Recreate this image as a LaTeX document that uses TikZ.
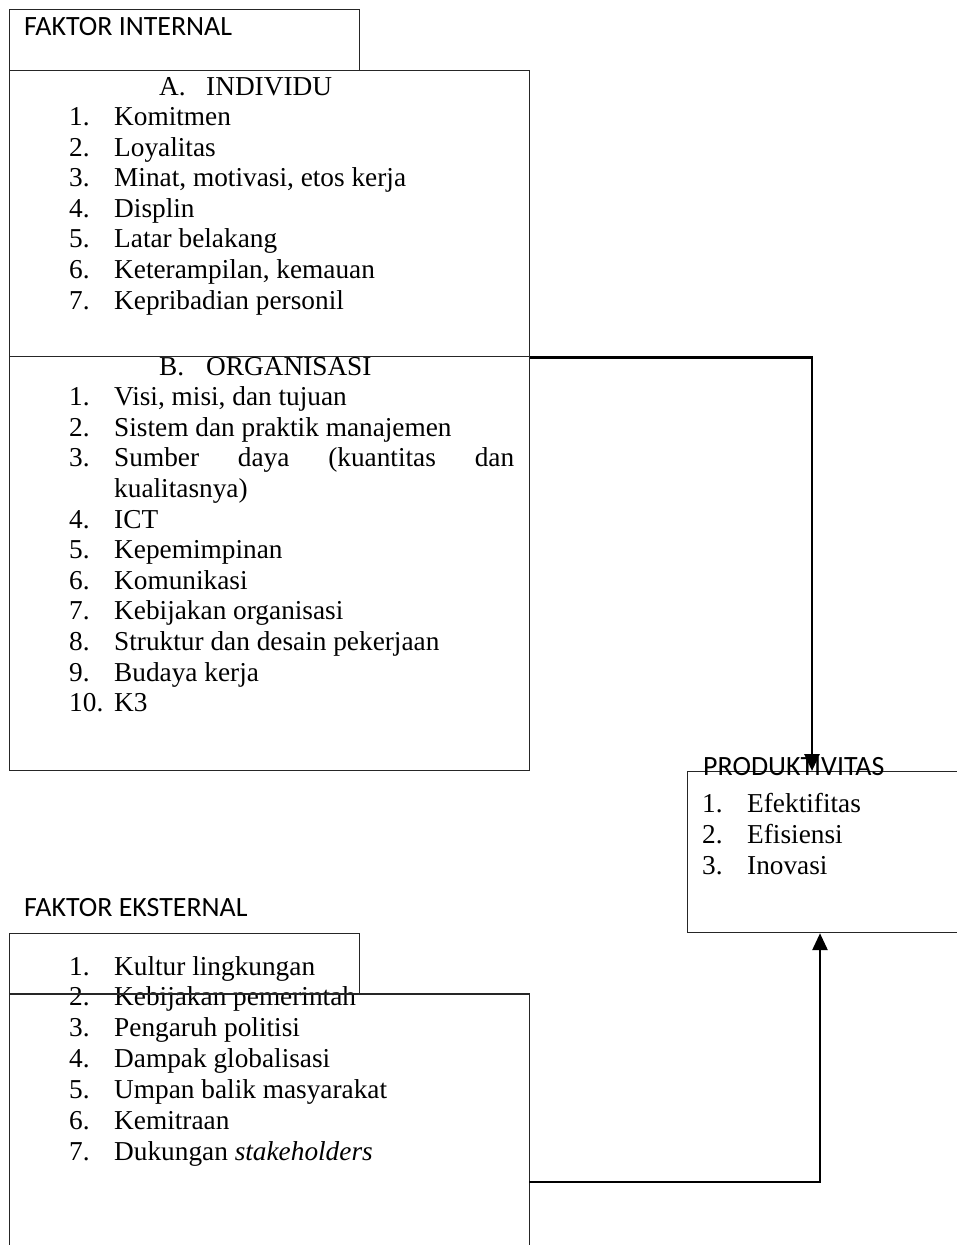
\documentclass[tikz,border=0pt]{standalone}
\usepackage{fontspec}
\setmainfont{Liberation Serif}
\newfontfamily\calib{Carlito}
\usetikzlibrary{arrows.meta}
\begin{document}
\begin{tikzpicture}[x=1pt,y=-1pt,
  boxnode/.style={draw=black!85, line width=1.2pt, inner sep=0pt, anchor=north west, rectangle, fill=white},
  lbl/.style={inner sep=0pt, anchor=base west, font=\calib\fontsize{27.9}{30}\selectfont},
  itm/.style={inner sep=0pt, anchor=base west, font=\fontsize{27.3}{30.6}\selectfont},
  conn/.style={draw=black, line width=2.8pt, -{Triangle[width=15pt,length=17pt]}}]
\useasboundingbox (0,0) rectangle (957,1245);
\clip (0,0) rectangle (957,1245);
\fill[white] (0,0) rectangle (957,1245);

% ---------- FAKTOR INTERNAL ----------
\node[boxnode, minimum width=350pt, minimum height=61pt] (fi) at (9,9) {};
\node[lbl] (fitxt) at (24,35) {FAKTOR INTERNAL};

% organisasi box and text (drawn first)
\node[boxnode, minimum width=520pt, minimum height=414pt] (org) at (9,356) {};
\node[itm] (orgA) at (159,375) {B.};
\node[itm] (orgH) at (206,375) {ORGANISASI};
\node[itm] (o1n) at (69,405.6) {1.};
\node[itm] (o1) at (114,405.6) {Visi, misi, dan tujuan};
\node[itm] (o2n) at (69,436.2) {2.};
\node[itm] (o2) at (114,436.2) {Sistem dan praktik manajemen};
\node[itm] (o3n) at (69,466.8) {3.};
\node[itm] (o3) at (114,466.8) {\hbox to 400pt{Sumber\hfill daya\hfill (kuantitas\hfill dan}};
\node[itm] (o3b) at (114,497.4) {kualitasnya)};
\foreach \t [count=\k] in {ICT, Kepemimpinan, Komunikasi, Kebijakan organisasi, Struktur dan desain pekerjaan, Budaya kerja, K3} {
  \pgfmathtruncatemacro{\num}{\k+3}
  \node[itm] (o\num n) at (69,{528+(\k-1)*30.6}) {\num.};
  \node[itm] (o\num) at (114,{528+(\k-1)*30.6}) {\t};
}

% individu box and text
\node[boxnode, minimum width=520pt, minimum height=286pt] (ind) at (9,70) {};
\node[itm] (indA) at (159,95) {A.};
\node[itm] (indH) at (206,95) {INDIVIDU};
\foreach \t [count=\k] in {Komitmen, Loyalitas, {Minat, motivasi, etos kerja}, Displin, Latar belakang, {Keterampilan, kemauan}, Kepribadian personil} {
  \node[itm] (i\k n) at (69,{125.5+(\k-1)*30.6}) {\k.};
  \node[itm] (i\k) at (114,{125.5+(\k-1)*30.6}) {\t};
}

% ---------- PRODUKTIVITAS ----------
\node[boxnode, minimum width=300pt, minimum height=161pt] (prod) at (687,771) {};
\node[lbl] (prodtxt) at (703,775) {PRODUKTIVITAS};
\foreach \t [count=\k] in {Efektifitas, Efisiensi, Inovasi} {
  \node[itm] (p\k n) at (702,{812+(\k-1)*31}) {\k.};
  \node[itm] (p\k) at (747,{812+(\k-1)*31}) {\t};
}

% ---------- FAKTOR EKSTERNAL ----------
\node[lbl] (fetxt) at (24,916) {FAKTOR EKSTERNAL};
\node[boxnode, minimum width=350pt, minimum height=61pt] (fe) at (9,933) {};
\node[boxnode, fill=none, minimum width=520pt, minimum height=320pt] (ext) at (9,994) {};
\foreach \t [count=\k] in {Kultur lingkungan, Kebijakan pemerintah, Pengaruh politisi, Dampak globalisasi, Umpan balik masyarakat, Kemitraan, Dukungan \textit{stakeholders}} {
  \node[itm] (e\k n) at (69,{975+(\k-1)*30.85}) {\k.};
  \node[itm] (e\k) at (114,{975+(\k-1)*30.85}) {\t};
}
% redraw top edge of external box over text
\draw[draw=black!85, line width=1.2pt] (ext.north west) -- (ext.north east);

% ---------- connectors ----------
\coordinate (extout) at (529,1182);
\draw[conn] (ind.south east) -| ([xshift=125pt]prod.north west);
\draw[conn] (extout) -| ([xshift=133pt]prod.south west);
\end{tikzpicture}
\end{document}
